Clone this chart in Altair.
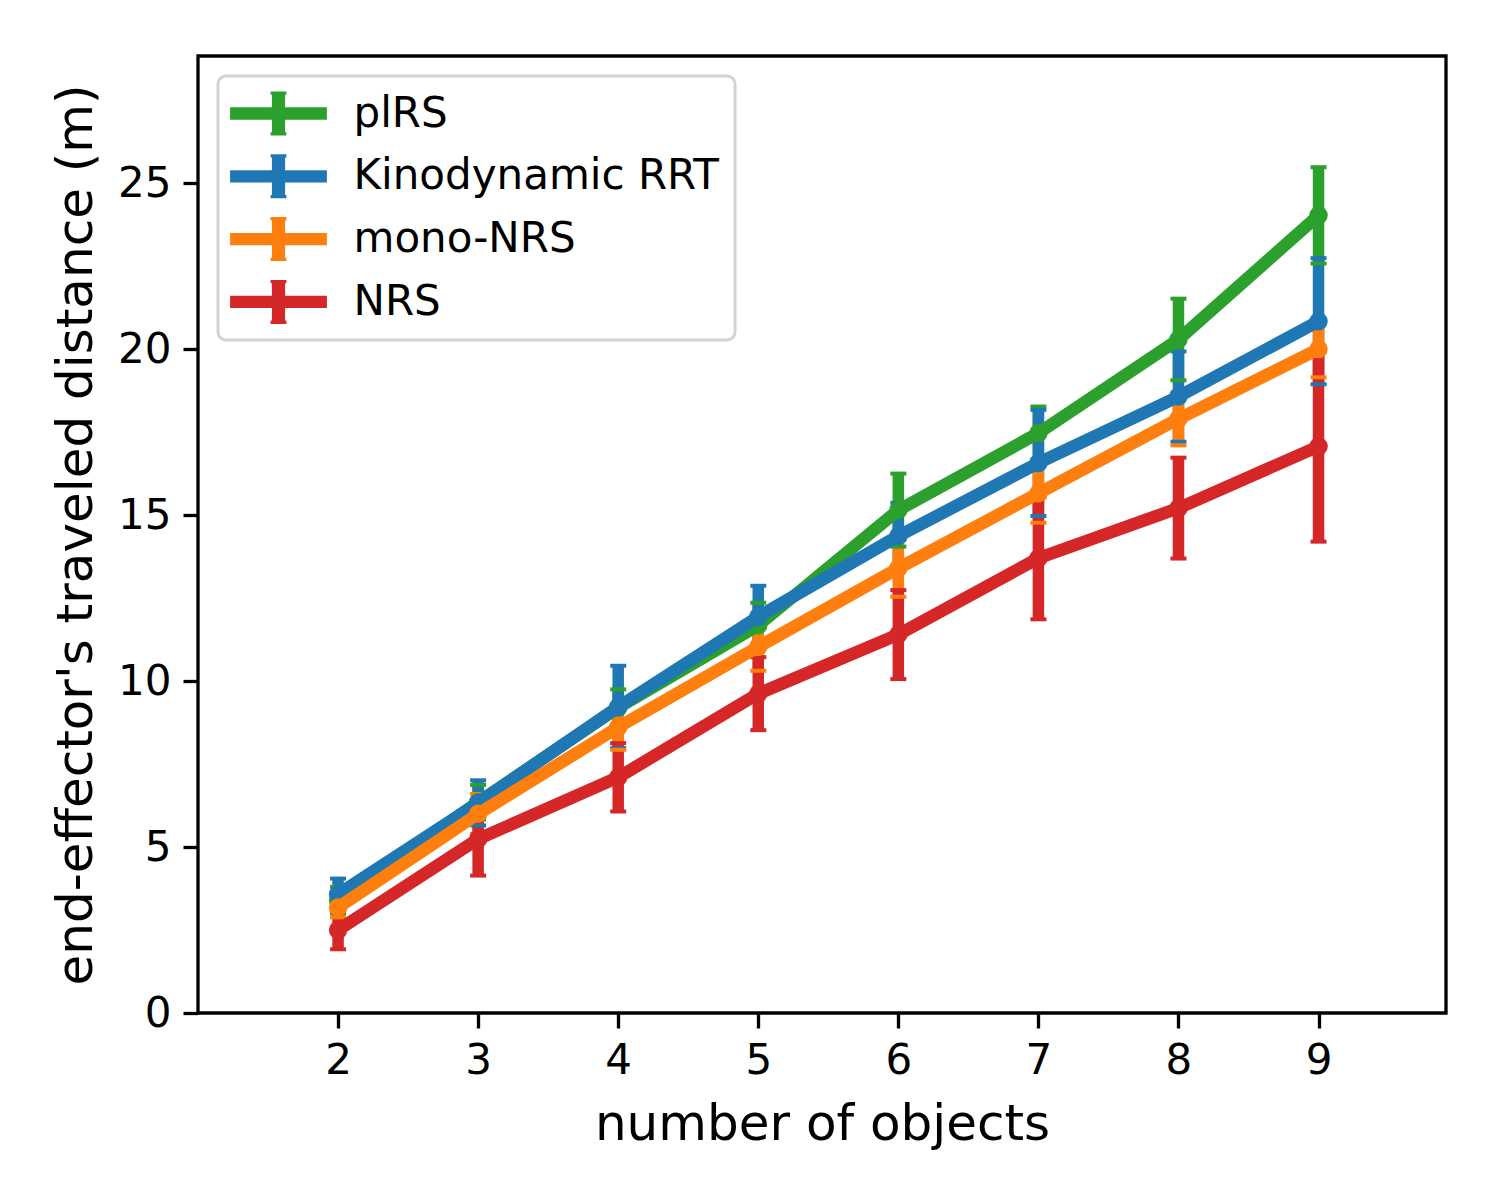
import altair as alt
import pandas as pd

# ---------------- data ----------------
x_objects = [2, 3, 4, 5, 6, 7, 8, 9]
series_names = ["plRS", "Kinodynamic RRT", "mono-NRS", "NRS"]
series_colors = ["#2ca02c", "#1f77b4", "#ff7f0e", "#d62728"]

plrs_mean = [3.40, 6.35, 9.20, 11.68, 15.15, 17.47, 20.29, 24.03]
plrs_err = [0.40, 0.52, 0.55, 0.68, 1.10, 0.80, 1.23, 1.45]

kino_mean = [3.58, 6.33, 9.22, 11.94, 14.37, 16.57, 18.57, 20.84]
kino_err = [0.47, 0.68, 1.24, 0.93, 1.00, 1.60, 1.36, 1.90]

mono_mean = [3.18, 6.00, 8.61, 11.03, 13.40, 15.66, 17.90, 20.00]
mono_err = [0.30, 0.60, 0.68, 0.72, 0.86, 0.89, 0.80, 0.85]

nrs_mean = [2.50, 5.24, 7.10, 9.62, 11.40, 13.70, 15.21, 17.07]
nrs_err = [0.58, 1.10, 1.03, 1.10, 1.34, 1.84, 1.52, 2.87]

y_ticks = [0, 5, 10, 15, 20, 25]

rows = []
for name, means, errs in zip(series_names,
                             [plrs_mean, kino_mean, mono_mean, nrs_mean],
                             [plrs_err, kino_err, mono_err, nrs_err]):
    for xv, m, e in zip(x_objects, means, errs):
        rows.append({"series": name, "objects": xv, "mean": m, "err": e,
                     "lo": m - e, "hi": m + e})
df = pd.DataFrame(rows)

FONT = "DejaVu Sans"

x_scale = alt.Scale(domain=[1.0, 9.91], nice=False, zero=False)
y_scale = alt.Scale(domain=[0, 28.83], nice=False, zero=False)
color_scale = alt.Scale(domain=series_names, range=series_colors)

x_axis = alt.Axis(values=x_objects, title="number of objects", format="d",
                  grid=False, domain=False)
y_axis = alt.Axis(values=y_ticks, title="end-effector's traveled distance (m)",
                  format="d", grid=False, domain=False)

LEGEND_PATH = ("M-2.2,-0.28H2.2V0.28H-2.2Z "
               "M-0.36,-1H0.36V-0.85H0.3V0.85H0.36V1H-0.36V0.85H-0.3V-0.85H-0.36Z")

legend = alt.Legend(
    title=None, orient="none", legendX=20, legendY=20,
    symbolType=LEGEND_PATH, symbolSize=44 * 44, symbolStrokeWidth=0,
    symbolOpacity=1, symbolOffset=23, labelOffset=53,
    labelFont=FONT, labelFontSize=42, labelColor="black", labelLimit=1000,
    padding=15.5, rowPadding=18.8, strokeColor="#d4d4d4", fillColor="white",
    cornerRadius=8,
)

base = alt.Chart(df)
X = alt.X("objects:Q", scale=x_scale, axis=x_axis)

bar_layers, cap_layers, line_layers = [], [], []
for name, col in zip(series_names, series_colors):
    sub = base.transform_filter(alt.datum.series == name)
    bar_layers.append(sub.mark_rule(strokeWidth=11.5, color=col).encode(
        x=X,
        y=alt.Y("lo:Q", scale=y_scale, axis=y_axis),
        y2="hi:Q",
    ))
    cap_layers.append(sub.transform_fold(["lo", "hi"], as_=["which", "cap"]).mark_tick(
        orient="horizontal", size=16, thickness=4, opacity=1, color=col
    ).encode(
        x=X,
        y=alt.Y("cap:Q", scale=y_scale, axis=y_axis),
    ))
    line = sub.mark_line(strokeWidth=12.5, strokeJoin="round", strokeCap="butt",
                         color=col).encode(
        x=X,
        y=alt.Y("mean:Q", scale=y_scale, axis=y_axis),
    )
    pts = sub.mark_point(filled=True, size=340, opacity=1).encode(
        x=X,
        y=alt.Y("mean:Q", scale=y_scale, axis=y_axis),
        color=alt.Color("series:N", scale=color_scale, legend=legend),
    )
    line_layers += [line, pts]

chart = alt.layer(*(bar_layers + cap_layers + line_layers)).properties(
    width=1248, height=957,
    padding={"left": 190, "top": 48, "right": 46, "bottom": 150},
    autosize=alt.AutoSizeParams(type="none"),
    background="white",
).configure_view(
    stroke="black", strokeWidth=3.3
).configure_legend(
    strokeWidth=3,
).configure_axis(
    labelFont=FONT, labelFontSize=42, labelColor="black",
    titleFont=FONT, titleFontSize=50, titleFontWeight="normal", titleColor="black",
    tickColor="black", tickWidth=3.3, tickSize=15, labelPadding=12,
).configure_axisX(
    titlePadding=18,
).configure_axisY(
    titlePadding=16,
)

chart.save("out.html", embed_options={"renderer": "svg", "actions": False})
